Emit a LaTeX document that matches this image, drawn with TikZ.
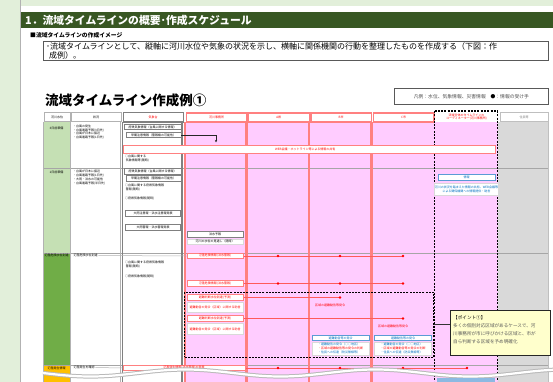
\documentclass[tikz,border=0pt]{standalone}
\usepackage{fontspec}
\setmainfont{Noto Sans CJK JP}
\usetikzlibrary{arrows.meta}
\definecolor{bggreen}{HTML}{E2EFDA}
\definecolor{titlegreen}{HTML}{385723}
\definecolor{pinkc}{HTML}{FFCCFF}
\definecolor{redline}{HTML}{FF8080}
\definecolor{redarrow}{HTML}{FF5A5A}
\definecolor{grayc}{HTML}{D9D9D9}
\definecolor{lightgreen}{HTML}{C5E0B4}
\definecolor{darkgreen}{HTML}{70AD47}
\definecolor{orangec}{HTML}{FFC000}
\definecolor{blueline}{HTML}{5B9BD5}
\definecolor{bluetext}{HTML}{0070C0}
\definecolor{yellowc}{HTML}{FFFFCC}
\definecolor{midgray}{HTML}{808080}
\tikzset{
  tinyf/.style={font=\fontsize{3}{3.8}\selectfont},
  tx/.style={tinyf, inner sep=0, align=left},
  hdr/.style={tinyf, fill=white, minimum height=9.5, inner sep=0, anchor=north west},
  gbox/.style={tinyf, draw=midgray, line width=0.9, fill=white, inner sep=0, minimum height=5.5},
  rbox/.style={tinyf, draw=redline, line width=1, fill=white, text=red, inner sep=0, minimum height=5.5},
  wbox/.style={tinyf, draw=gray!30, line width=0.4, fill=white, inner sep=0.5, align=center},
  bbox/.style={tinyf, draw=blueline, line width=1, fill=white, text=bluetext, inner sep=0, minimum height=6},
  rline/.style={draw=redarrow, line width=0.8},
  rdot/.style={circle, fill=red, inner sep=0, minimum size=2.6},
  rowline/.style={draw=gray!70, line width=0.8},
}
\begin{document}
\begin{tikzpicture}[x=1pt,y=-1pt]
\useasboundingbox (0,0) rectangle (553,382);
\fill[bggreen] (0,0) rectangle (553,382);
\fill[white] (21,6) rectangle (553,382);
\draw[gray!60, line width=1] (20.5,0) -- (20.5,382);
\fill[titlegreen] (21,12) rectangle (553,28);
\node[anchor=west, text=white, inner sep=0, font=\fontsize{10.8}{12}\selectfont\bfseries] (title) at (25,20) {1．流域タイムラインの概要･作成スケジュール};
\node[anchor=west, inner sep=0, font=\fontsize{5.8}{6}\selectfont\bfseries] (sub) at (30,35) {■流域タイムラインの作成イメージ};
\node[draw=gray!70!black, line width=0.6, fill=white, minimum width=505, minimum height=19, anchor=north west, inner sep=0] (desc) at (43,41) {};
\node[anchor=north west, font=\fontsize{8}{8.5}\selectfont, align=left, inner sep=0] (desctx) at (46,42.5) {･流域タイムラインとして、縦軸に河川水位や気象の状況を示し、横軸に関係機関の行動を整理したものを作成する（下図：作\\\hspace{3pt}成例）。};

\node[anchor=west, inner sep=0, font=\fontsize{13.5}{14}\selectfont\bfseries] (bigtitle) at (45,100) {流域タイムライン作成例①};
\node[draw=gray!70!black, line width=0.8, fill=white, minimum width=154, minimum height=16, anchor=north west, inner sep=0] (legend) at (394,88) {};
\node[inner sep=0, text=gray!60!black, font=\fontsize{4.8}{5}\selectfont] (legendtx) at (legend.center) {凡例：水位、気象情報、災害情報　\textcolor{black}{●}：情報の受け手};

% body fills
\fill[lightgreen] (43,122) rectangle (70,253);
\fill[darkgreen] (43,253) rectangle (70,365);
\fill[orangec] (43,365) rectangle (70,382);
\fill[pinkc] (184,122) rectangle (498,382);
\fill[grayc] (498,122) rectangle (548,382);

% row lines
\draw[rowline] (43,168) -- (548,168);
\draw[rowline] (43,253) -- (548,253);
\draw[rowline] (43,365) -- (548,365);

% column borders
\draw[gray!60, line width=0.6] (43,122) -- (43,382);
\draw[gray!60, line width=0.6] (70.5,122) -- (70.5,382);
\draw[gray!60, line width=0.6] (120.5,122) -- (120.5,382);
\draw[midgray, line width=1.5] (122.5,122) -- (122.5,382);
\draw[midgray, line width=1.5] (182,122) -- (182,382);
\draw[redline, line width=2.2] (185,122) -- (185,382);
\draw[redline, line width=2.2] (246.5,122) -- (246.5,382);
\draw[redline, line width=2.2] (309,122) -- (309,382);
\draw[redline, line width=2.2] (371.5,122) -- (371.5,382);
\draw[gray!50, line width=0.6] (548,122) -- (548,382);

% header
\node[hdr, draw=gray!60, line width=0.6, minimum width=26.5] (h0) at (43.5,112) {河川水位};
\node[hdr, draw=gray!60, line width=0.6, minimum width=49.5] (h1) at (71,112) {状況};
\node[hdr, draw=midgray, line width=1.4, minimum width=60, text=red] (h2) at (122.5,112) {気象台};
\node[hdr, draw=redline, line width=1.6, minimum width=60.5, text=red] (h3) at (185.5,112) {河川事務所};
\node[hdr, draw=redline, line width=1.6, minimum width=61, text=red] (h4) at (247.5,112) {A県};
\node[hdr, draw=redline, line width=1.6, minimum width=60.5, text=red] (h5) at (310,112) {B市};
\node[hdr, draw=redline, line width=1.6, minimum width=60.5, text=red] (h6) at (372.5,112) {C市};
\node[hdr, minimum width=63.5, text=red, align=center] (h7) at (434.5,112) {流域全体のタイムラインの\\コーディネーター(河川事務所)};
\node[hdr, draw=gray!50, line width=0.6, minimum width=48.5, text=gray] (h8) at (499.5,112) {住民等};
\draw[black, line width=1.3, dash pattern=on 2 off 1.3] (434.5,111) -- (434.5,382);
\draw[black, line width=1.3, dash pattern=on 2 off 1.3] (497.5,111) -- (497.5,382);
\draw[black, line width=1.3, dash pattern=on 2 off 1.3] (434.5,111) -- (497.5,111);

% column 0 labels
\node[tx] (l1) at (56.5,128) {3日前準備};
\node[tx] (l2) at (56.5,172) {1日前準備};
\node[tx] (l3) at (56.5,255.5) {氾濫危険水位到達};
\node[tx] (l4) at (56.5,368) {氾濫発生情報};

% status column
\node[tx, anchor=north west] (s1) at (73,124.5) {・台風の発生\\・台風進路予報(3日先)\\・台風が日本に接近\\・台風進路予報(1日先)};
\node[tx, anchor=north west] (s2) at (73,170) {・台風が日本に接近\\・台風進路予報(1日先)\\・大雨・洪水の可能性\\・台風進路予報(半日先)};
\node[tx, anchor=west, fill=white, inner sep=0.5] (s3) at (73,255.5) {氾濫危険水位到達};
\node[tx, anchor=west, fill=white, inner sep=0.5] (s4) at (73,367.5) {氾濫発生を確認};

% weather office column, row 1
\node[gbox, minimum width=57] (k1) at (152.5,127.2) {府県気象情報（台風に関する情報）};
\node[gbox, minimum width=55] (k2) at (153.5,135) {早期注意情報（警報級の可能性）};
\coordinate (k2end) at (216,142.5);
\draw[gray!30!black, line width=0.8, -{Stealth[length=2.5,width=2.2]}] (k2.east) -| (k2end);
\node[tinyf, draw=redline, line width=1, fill=white, minimum width=372, minimum height=7, inner sep=0] (share) at (309,149.5) {};
\node[tx, anchor=west, text=red] (sharetx) at (275,149.5) {WEB会議・ホットライン等による情報の共有};
\node[tx, anchor=north west] (k3) at (125,155) {○台風に関する\\\ 気象情報等(随時)};

% weather office column, row 2
\node[gbox, minimum width=57] (k4) at (152.5,171.5) {府県気象情報（台風に関する情報）};
\node[gbox, minimum width=55] (k5) at (153.5,178.5) {早期注意情報（警報級の可能性）};
\node[tx, anchor=north west] (k6) at (125,184) {○台風に関する府県気象情報\\\ 警報(随時)};
\node[tx, anchor=west] (k7) at (125,199) {○府県気象情報(随時)};
\node[gbox, minimum width=55] (k8) at (153,213.5) {大雨注意報・洪水注意報発表};
\node[gbox, minimum width=55] (k9) at (153,227.5) {大雨警報・洪水警報発表};

% weather office column, row 3
\node[tx, anchor=north west] (k10) at (125,261) {○台風に関する府県気象情報\\\ 警報(随時)};
\node[tx, anchor=west] (k11) at (125,277) {○府県気象情報(随時)};

% river office, row 2
\node[gbox, minimum width=56, line width=0.7] (f1) at (215,234.5) {洪水予報};
\node[wbox, minimum width=56, minimum height=5, anchor=center] (f2) at (215,241.5) {河川の水位の見通し（随時）};

% coordinator column, row 2
\node[bbox, minimum width=57] (c1) at (466.5,177.5) {情報};
\node[wbox, minimum width=57, minimum height=12, text=bluetext] (c2) at (466.5,189) {河川の状況を踏まえた情報の共有、WEB会議等\\による関係機関への情報提供・助言};

% row 3 red items
\node[rbox, minimum width=56] (r1) at (215,256) {氾濫危険情報(洪水警報)};
\coordinate (r1end) at (403,256);
\draw[rline] (r1.east) -- (r1end);
\node[rdot] (r1a) at (278,256) {};
\node[rdot] (r1b) at (340,256) {};
\node[rdot] (r1c) at (r1end) {};

\node[rbox, minimum width=56] (r2) at (215,283.5) {氾濫危険情報(洪水警報)};
\coordinate (r2end) at (403,283.5);
\draw[rline] (r2.east) -- (r2end);
\node[rdot] (r2a) at (278,283.5) {};
\node[rdot] (r2b) at (340,283.5) {};
\node[rdot] (r2c) at (r2end) {};

\node[draw=black, line width=1.2, dash pattern=on 2 off 1.2, minimum width=249, minimum height=65, anchor=north west, inner sep=0] (zone) at (184,291.5) {};

\node[rbox, minimum width=56] (r3) at (215,297.5) {避難判断水位到達(予測)};
\coordinate (r3end) at (340,297.5);
\draw[rline] (r3.east) -- (r3end);
\node[rdot] (r3a) at (r3end) {};
\node[tx, text=red] (r3t) at (330,305) {区域の避難勧告等発令};
\node[wbox, minimum width=56, minimum height=10, text=red] (r3w) at (215,307.5) {避難勧告の発令（区域）に関する助言};

\node[rbox, minimum width=56] (r4) at (215,318.5) {避難判断水位到達(予測)};
\coordinate (r4end) at (403,318.5);
\draw[rline] (r4.east) -- (r4end);
\node[rdot] (r4a) at (r4end) {};
\node[tx, text=red] (r4t) at (393,326) {区域の避難勧告等発令};
\node[wbox, minimum width=56, minimum height=11, text=red] (r4w) at (215,329) {避難勧告の発令（区域）に関する助言};

% blue boxes in B / C city
\node[bbox, minimum width=57, minimum height=5.5] (bB) at (340.5,338) {避難勧告等の発令};
\node[wbox, minimum width=57, minimum height=13, align=left] (bBw) at (340.5,348.5) {\textcolor{bluetext}{・避難勧告の発令（○○地区）}\\\textcolor{red}{・区域の避難勧告等の発令の判断}\\\textcolor{bluetext}{・住民への伝達（防災無線等）}};
\node[bbox, minimum width=57, minimum height=5.5] (bC) at (403,338) {避難勧告等の発令};
\node[wbox, minimum width=57, minimum height=13, align=left] (bCw) at (403,348.5) {\textcolor{bluetext}{・避難勧告の発令（○○地区）}\\\textcolor{red}{・区域の避難勧告等の発令の判断}\\\textcolor{bluetext}{・住民への伝達（防災無線等）}};

% callout
\node[draw=gray!30!black, line width=1.3, fill=yellowc, minimum width=100, minimum height=45, anchor=north west, inner sep=0] (point) at (450,310) {};
\node[anchor=north west, inner sep=0, align=left, text=gray!70!black, font=\fontsize{4.6}{8}\selectfont] (pointtx) at (453,315.5) {\textcolor{black}{【ポイント①】}\\多くの個別対応区域があるケースで、河\\川事務所が市に呼びかける区域と、市が\\自ら判断する区域を予め明確化};
\draw[gray!40!black, line width=0.9] (zone.east) -- (zone.east -| point.west);

% row 4
\node[tinyf, draw=redline, line width=1, fill=white, text=red, minimum width=122, minimum height=5, inner sep=0] (r5) at (184,368) {氾濫発生情報(洪水警報)の発表};
\draw[gray!60, line width=0.5] (s4.east) -- (r5.west);
\coordinate (r5end) at (467,368);
\draw[rline] (r5.east) -- (r5end);
\node[rdot] (r5a) at (278,368) {};
\node[rdot] (r5b) at (340,368) {};
\node[rdot] (r5c) at (403,368) {};
\node[rdot] (r5d) at (r5end) {};
\draw[gray!60, line width=0.5] (s3.east) -- (r1.west);

% wave break
\draw[gray!55, line width=4.2] plot[domain=43:553, samples=80, smooth] (\x, {373 + 3.5*sin((\x-43)*1.894737)});
\draw[white, line width=2.2] plot[domain=43:553, samples=80, smooth] (\x, {373 + 3.5*sin((\x-43)*1.894737)});
\fill[blueline!70] (437,377.5) rectangle (495,382);
\end{tikzpicture}
\end{document}
